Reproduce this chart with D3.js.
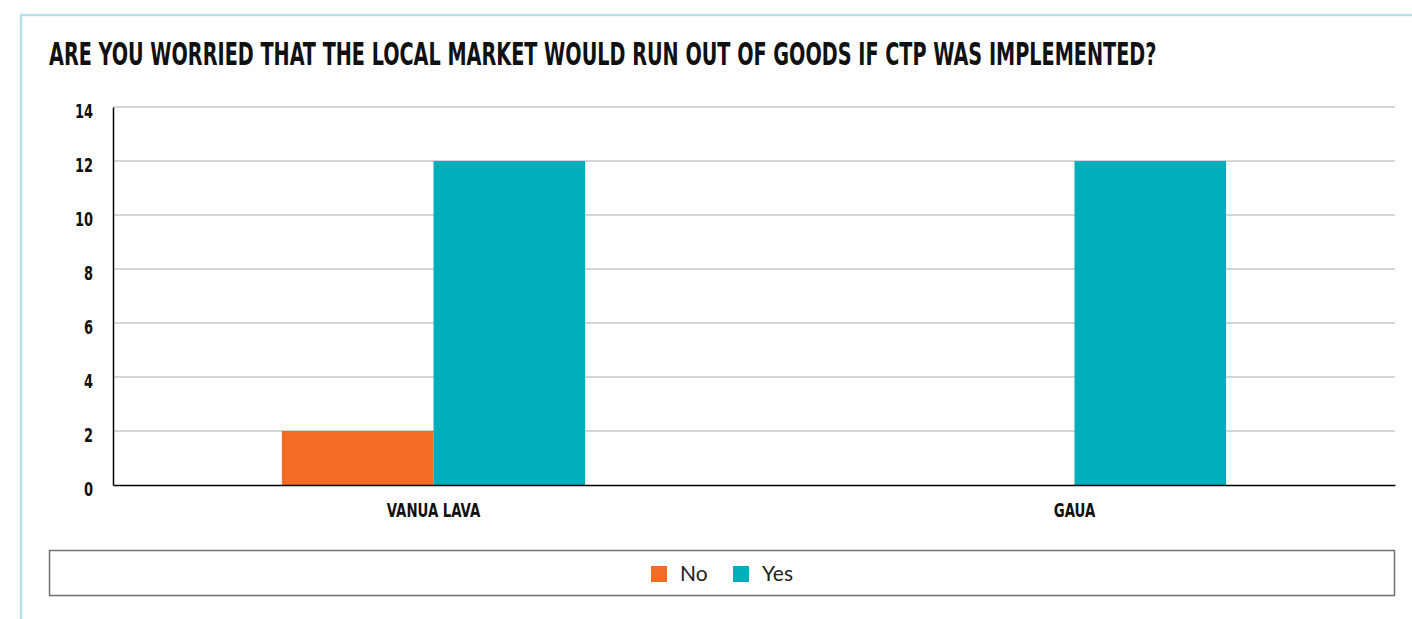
<!DOCTYPE html>
<html><head><meta charset="utf-8">
<script src="https://cdn.jsdelivr.net/npm/d3@7"></script>
<style>
html,body{margin:0;padding:0;background:#fff;}
svg{display:block;}
</style>
</head><body>
<svg id="chart" width="1412" height="619"></svg>
<script>
const title = "ARE YOU WORRIED THAT THE LOCAL MARKET WOULD RUN OUT OF GOODS IF CTP WAS IMPLEMENTED?";
const categories = ["VANUA LAVA", "GAUA"];
const seriesNames = ["No", "Yes"];
const noValues = [2, 0];
const yesValues = [12, 12];
const yTicks = [0, 2, 4, 6, 8, 10, 12, 14];
const colors = ["#F26C23", "#00AEBB"];

const svg = d3.select("#chart");
const W = 1412, H = 619;
const m = {left: 113, right: 1395, top: 107, bottom: 485};
const condensed = "'DejaVu Sans Condensed','Liberation Sans Narrow',sans-serif";

// outer light-blue frame
svg.append("path").attr("d", `M21,${H} V15 H${W}`)
  .attr("fill","none").attr("stroke","#b6e2ea").attr("stroke-width",2.5);

// title, horizontally compressed to mimic a condensed display face
const tg = svg.append("g").attr("transform","translate(49,65)");
const tt = tg.append("text").attr("x",0).attr("y",0)
  .attr("font-family",condensed).attr("font-weight","bold").attr("font-size",31.5)
  .attr("fill","#111").text(title);
const tw = tt.node().getComputedTextLength();
tt.attr("transform",`scale(${1108/tw},1)`);

const x0 = d3.scaleBand().domain(categories).range([m.left, m.right])
  .paddingInner(0.527).paddingOuter(0.2635);
const x1 = d3.scaleBand().domain(seriesNames).range([0, x0.bandwidth()]);
const y = d3.scaleLinear().domain([0, 14]).range([m.bottom, m.top]);

// gridlines
svg.append("g").selectAll("line").data(yTicks.filter(d=>d>0)).join("line")
  .attr("x1", m.left).attr("x2", m.right)
  .attr("y1", d=>y(d)).attr("y2", d=>y(d))
  .attr("stroke","#c8c8c8").attr("stroke-width",1.5);

// bars
const data = categories.map((c,i)=>({cat:c, vals:[noValues[i], yesValues[i]]}));
const groups = svg.append("g").selectAll("g").data(data).join("g")
  .attr("transform", d=>`translate(${x0(d.cat)},0)`);
groups.selectAll("rect").data(d=>d.vals.map((v,j)=>({name:seriesNames[j], v, j})))
  .join("rect")
  .attr("x", d=>x1(d.name)).attr("width", x1.bandwidth())
  .attr("y", d=>y(d.v)).attr("height", d=>y(0)-y(d.v))
  .attr("fill", d=>colors[d.j]);

// y axis
const ysx = 0.76;
const yAxis = d3.axisLeft(y).tickValues(yTicks).tickSize(0).tickPadding(20).tickFormat(d3.format("d"));
const gy = svg.append("g").attr("transform",`translate(${m.left},0)`).call(yAxis);
gy.select(".domain").attr("stroke","#000").attr("stroke-width",1.5);
gy.selectAll("text").attr("font-family",condensed).attr("font-weight","bold")
  .attr("font-size",19).attr("fill","#111")
  .attr("x", -20/ysx).attr("dy","0.67em").attr("y",-2.5)
  .attr("transform",`scale(${ysx},1)`);

// x axis
const xsx = 0.78;
const xAxis = d3.axisBottom(x0).tickSize(0).tickPadding(19);
const gx = svg.append("g").attr("transform",`translate(0,${m.bottom})`).call(xAxis);
gx.select(".domain").attr("stroke","#000").attr("stroke-width",1.5);
gx.selectAll("text").attr("font-family",condensed).attr("font-weight","bold")
  .attr("font-size",19).attr("fill","#111")
  .attr("transform",`scale(${xsx},1)`);

// legend box
svg.append("rect").attr("x",49.5).attr("y",550.5).attr("width",1345).attr("height",45)
  .attr("fill","#fff").attr("stroke","#707070").attr("stroke-width",1.5);
const legendX = [651, 733];
const lg = svg.append("g").selectAll("g").data(seriesNames).join("g")
  .attr("transform",(d,i)=>`translate(${legendX[i]},566)`);
lg.append("rect").attr("width",16).attr("height",16).attr("fill",(d,i)=>colors[i]);
lg.append("text").attr("x",29).attr("y",15)
  .attr("font-family","'Lato','Open Sans',sans-serif").attr("font-size",21).attr("fill","#222")
  .text(d=>d);
</script>
</body></html>
